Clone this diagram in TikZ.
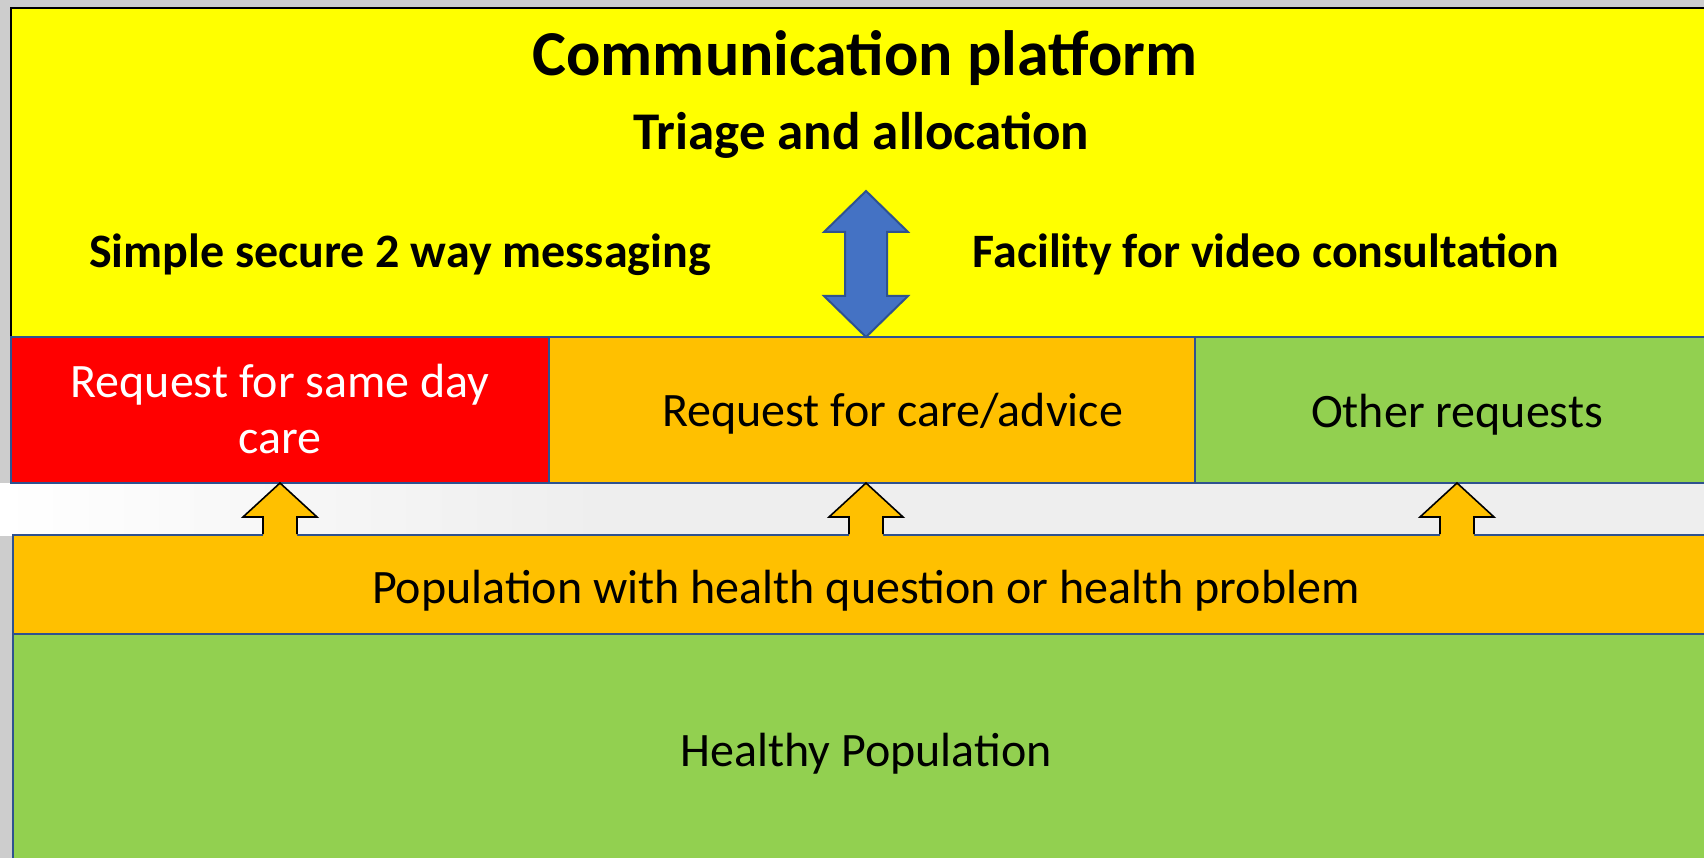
\documentclass[tikz,border=0pt]{standalone}
\usepackage{fontspec}
\setmainfont{Carlito}
\usetikzlibrary{calc}
\definecolor{cyel}{RGB}{255,255,0}
\definecolor{cred}{RGB}{255,0,0}
\definecolor{corg}{RGB}{255,192,0}
\definecolor{cgrn}{RGB}{146,208,80}
\definecolor{cblu}{RGB}{68,114,196}
\definecolor{cbdr}{RGB}{47,82,143}
\definecolor{cbg}{RGB}{205,205,205}
\definecolor{cgap}{RGB}{238,238,238}
\begin{document}
\begin{tikzpicture}[x=1pt,y=-1pt,
  box/.style={draw=cbdr, line width=2pt, inner sep=0pt, outer sep=0pt, anchor=north west},
  txt/.style={anchor=base, inner sep=0pt, font=\fontsize{48}{56}\selectfont},
  boldtxt/.style={anchor=base, inner sep=0pt, font=\fontsize{48}{56}\selectfont\bfseries},
  uparrowfill/.style={fill=corg},
  uparrowline/.style={draw=black, line width=1.6pt, line join=miter},
  dblarrow/.style={fill=cblu, draw=cbdr, line width=2pt, line join=miter}]
\useasboundingbox (0,0) rectangle (1704,858);
\clip (0,0) rectangle (1704,858);
% background
\fill[cbg] (0,0) rectangle (1704,858);
\shade[left color=white, right color=cgap] (0,483) rectangle (600,535);
\fill[cgap] (600,483) rectangle (1704,535);

% boxes
\node[box, draw=black, fill=cyel, minimum width=1710pt, minimum height=329pt] (plat) at (11,8) {};
\node[box, fill=cred, minimum width=538pt, minimum height=146pt] (red) at (11,337) {};
\node[box, fill=corg, minimum width=646pt, minimum height=146pt] (care) at (549,337) {};
\node[box, fill=cgrn, minimum width=530pt, minimum height=146pt] (other) at (1195,337) {};
\node[box, fill=cgrn, minimum width=1710pt, minimum height=240pt] (healthy) at (13,634) {};
\node[box, fill=corg, minimum width=1710pt, minimum height=99pt] (pop) at (13,535) {};

% texts
\node[anchor=base, inner sep=0pt, font=\fontsize{64}{70}\selectfont\bfseries] (title) at (865,76) {Communication platform};
\node[anchor=base, inner sep=0pt, font=\fontsize{53}{60}\selectfont\bfseries] (triage) at (861,150) {Triage and allocation};
\node[boldtxt] (msg) at (400,268) {Simple secure 2 way messaging};
\node[boldtxt] (video) at (1266,268) {Facility for video consultation};
\node[txt, text=white] (redt1) at (280,397) {Request for same day};
\node[txt, text=white] (redt2) at (280,453) {care};
\node[txt, anchor=base west] (caret) at (662,426) {Request for care/advice};
\node[txt] (othert) at (1457,427) {Other requests};
\node[txt] (popt) at (866,603) {Population with health question or health problem};
\node[txt] (healthyt) at (866,766) {Healthy Population};

% double arrow between platform and requests
\coordinate (dtop) at (866,191);
\coordinate (dbot) at ($(care.north west)+(317,0)$);
\draw[dblarrow] (dtop) -- ++(42,41) -- ++(-21,0) -- ++(0,64) -- ++(21,0)
  -- (dbot) -- ++(-42,-41) -- ++(21,0) -- ++(0,-64) -- ++(-21,0) -- cycle;

% small up arrows from population to requests
\coordinate (t1) at (red.south);
\coordinate (t2) at ($(care.south west)+(317,0)$);
\coordinate (t3) at ($(other.south west)+(262,0)$);
\foreach \t in {t1,t2,t3}{
  \fill[uparrowfill] (\t) -- ++(37,34) -- ++(-20,0) -- ++(0,19) -- ++(-34,0) -- ++(0,-19) -- ++(-20,0) -- cycle;
  \draw[uparrowline] ($(\t)+(-17,51)$) -- ++(0,-17) -- ++(-20,0) -- (\t) -- ++(37,34) -- ++(-20,0) -- ++(0,17);
}
\end{tikzpicture}
\end{document}
